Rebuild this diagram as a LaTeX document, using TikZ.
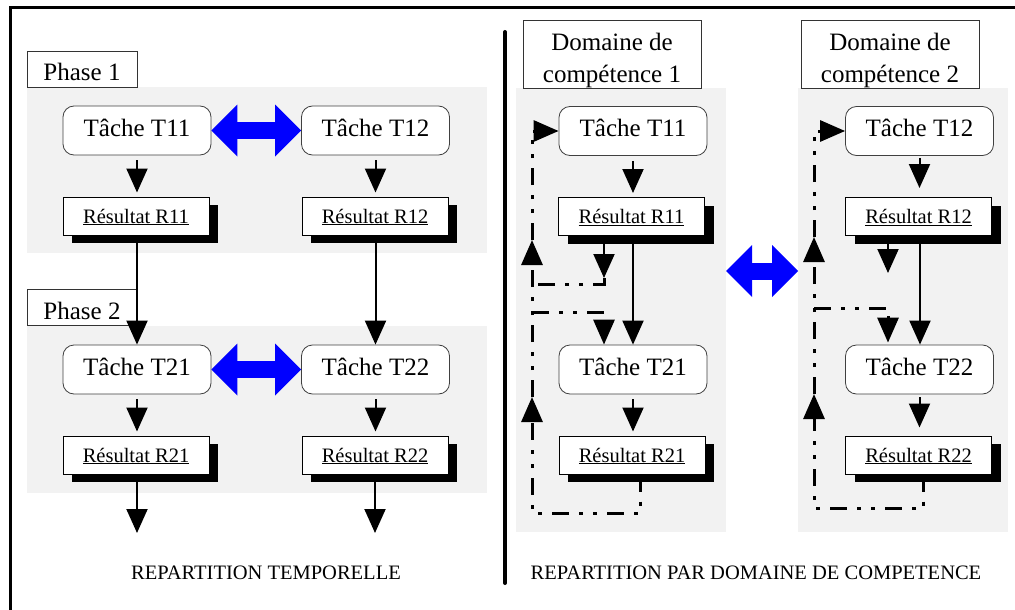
\documentclass[tikz,border=0pt]{standalone}
\usepackage{fontspec}
\setmainfont{Liberation Serif}
\usetikzlibrary{arrows.meta,shadows,calc}
\definecolor{panelgray}{RGB}{242,242,242}
\definecolor{pureblue}{RGB}{0,0,255}
\begin{document}
\begin{tikzpicture}[x=1pt,y=-1pt,
 panel/.style={fill=panelgray, draw=none, inner sep=0pt, anchor=north west},
 tache/.style={draw=black!75, line width=0.8pt, fill=white, rounded corners=11pt, minimum width=148pt, minimum height=49pt, inner sep=0pt, text height=17pt, text depth=6pt, font=\fontsize{25}{30}\selectfont},
 resultat/.style={draw=black, line width=1pt, fill=white, minimum width=146pt, minimum height=38pt, inner sep=0pt, text height=14pt, text depth=0pt, font=\fontsize{20.5}{24}\selectfont, drop shadow={shadow xshift=9pt, shadow yshift=-8pt, fill=black, opacity=1}},
 phasebox/.style={draw=black!80, line width=0.8pt, fill=white, minimum width=110pt, minimum height=36pt, inner sep=0pt, text height=24pt, text depth=0pt, font=\fontsize{25}{30}\selectfont},
 dombox/.style={draw=black!80, line width=0.8pt, fill=white, minimum width=178pt, minimum height=68pt, inner sep=0pt},
 domtext/.style={align=center, inner sep=0pt, font=\fontsize{25}{32}\selectfont},
 flow/.style={draw=black, line width=2pt, -{Triangle[width=21pt,length=24pt]}},
 ddot/.style={line width=3pt, dash pattern=on 17pt off 10pt on 4pt off 10pt on 4pt off 10pt},
 feedback/.style={draw=black, ddot, -{Triangle[width=21pt,length=25pt]}},
 feedline/.style={draw=black, ddot},
 bluearrow/.style={draw=pureblue, line width=17pt, {Triangle[width=52pt,length=26pt,line width=0pt]}-{Triangle[width=52pt,length=26pt,line width=0pt]}},
 caption/.style={font=\fontsize{20.5}{24}\selectfont}
]
\useasboundingbox (0,0) rectangle (1015,610);
\fill[white] (0,0) rectangle (1015,610);

% frame and divider
\draw[line width=3pt] (10,610) -- (10,8) -- (1015,8);
\draw[line width=4pt, line cap=round] (505,32) -- (505,583);

% grey panels
\node[panel, minimum width=460pt, minimum height=166pt] (band1) at (27,87) {};
\node[panel, minimum width=460pt, minimum height=167pt] (band2) at (27,326) {};
\node[panel, minimum width=210pt, minimum height=444pt] (dom1) at (516,88) {};
\node[panel, minimum width=210pt, minimum height=444pt] (dom2) at (798,88) {};

% ---------------- left part
\node[phasebox] (ph1) at (82,69) {Phase 1};
\node[phasebox] (ph2) at (82,307.5) {Phase 2};

\node[tache] (t11) at (137,130.5) {Tâche T11};
\node[tache] (t12) at (375.5,130.5) {Tâche T12};
\node[resultat] (r11) at (136,216) {\underline{Résultat R11}};
\node[resultat] (r12) at (375,216) {\underline{Résultat R12}};
\node[tache] (t21) at (137,369.5) {Tâche T21};
\node[tache] (t22) at (375.5,369.5) {Tâche T22};
\node[resultat] (r21) at (136,455) {\underline{Résultat R21}};
\node[resultat] (r22) at (375,455) {\underline{Résultat R22}};

\draw[bluearrow] (t11.east) -- (t12.west);
\draw[bluearrow] (t21.east) -- (t22.west);

\draw[flow] ($(t11.south)+(0,5)$) -- ($(t11.south |- r11.north)+(0,-4)$);
\draw[flow] ($(t12.south)+(0,5)$) -- ($(t12.south |- r12.north)+(0,-4)$);
\draw[flow] ($(t21.south)+(0,5)$) -- ($(t21.south |- r21.north)+(0,-4)$);
\draw[flow] ($(t22.south)+(0,5)$) -- ($(t22.south |- r22.north)+(0,-4)$);
\draw[flow] (t21.north |- r11.south) -- (t21.north);
\draw[flow] (t22.north |- r12.south) -- (t22.north);
\coordinate (e21) at (137,533);
\coordinate (e22) at (375,533);
\draw[flow] (e21 |- r21.south) -- (e21);
\draw[flow] (e22 |- r22.south) -- (e22);

\node[caption] (cap1) at (266,573) {REPARTITION TEMPORELLE};

% ---------------- right part
\node[dombox] (d1) at (612,54) {};
\node[domtext] (d1t) at (612,60) {Domaine de\\compétence 1};
\node[dombox] (d2) at (890,54) {};
\node[domtext] (d2t) at (890,60) {Domaine de\\compétence 2};

\node[tache] (t11r) at (633,131) {Tâche T11};
\node[resultat] (r11r) at (631.5,216.5) {\underline{Résultat R11}};
\node[tache] (t21r) at (633,369.5) {Tâche T21};
\node[resultat] (r21r) at (632,455) {\underline{Résultat R21}};

\node[tache] (t12r) at (919.5,131) {Tâche T12};
\node[resultat] (r12r) at (918.5,216.5) {\underline{Résultat R12}};
\node[tache] (t22r) at (919.5,369.5) {Tâche T22};
\node[resultat] (r22r) at (918.5,455) {\underline{Résultat R22}};

\coordinate (b1) at (726,271);
\coordinate (b2) at (798,271);
\draw[bluearrow] (b1) -- (b2);

% domain 1
\draw[flow] ($(t11r.south)+(0,5)$) -- ($(t11r.south |- r11r.north)+(0,-4)$);
\draw[flow] ($(t21r.south)+(0,5)$) -- ($(t21r.south |- r21r.north)+(0,-4)$);
\draw[flow] (t21r.north |- r11r.south) -- (t21r.north);
\coordinate (a1) at (604,278);
\draw[flow] (a1 |- r11r.south) -- (a1);
\draw[feedline] (a1) -- ++(0,6) -- (532,284);
\draw[feedback] (532,312) -| (a1 |- t21r.north);
\coordinate (f1) at (640,513);
\coordinate (v1a) at (532,397);
\coordinate (v1b) at (532,240);
\draw[feedback] (f1 |- r21r.south) -- (f1) -- (v1a |- f1) -- (v1a);
\draw[feedback] (v1a) -- (v1b);
\draw[feedback] (v1b) -- (v1b |- t11r.west) -- (t11r.west);

% domain 2
\draw[flow] ($(t12r.south)+(0,2)$) -- ($(t12r.south |- r12r.north)+(0,-9)$);
\draw[flow] ($(t22r.south)+(0,3)$) -- ($(t22r.south |- r22r.north)+(0,-8)$);
\coordinate (c2) at (920,300);
\draw[flow] (c2 |- r12r.south) -- (c2 |- t22r.north);
\coordinate (a2) at (888,273);
\draw[flow] (a2 |- r12r.south) -- (a2);
\draw[feedback] (814,308) -| ($(a2 |- t22r.north)+(0,-2)$);
\coordinate (f2) at (923,508);
\coordinate (v2a) at (814,394);
\coordinate (v2b) at (814,237);
\draw[feedback] (f2 |- r22r.south) -- (f2) -- (v2a |- f2) -- (v2a);
\draw[feedback] (v2a) -- (v2b);
\draw[feedback] (v2b) -- (v2b |- t12r.west) -- (t12r.west);

\node[caption] (cap2) at (756,573) {REPARTITION PAR DOMAINE DE COMPETENCE};
\end{tikzpicture}
\end{document}
